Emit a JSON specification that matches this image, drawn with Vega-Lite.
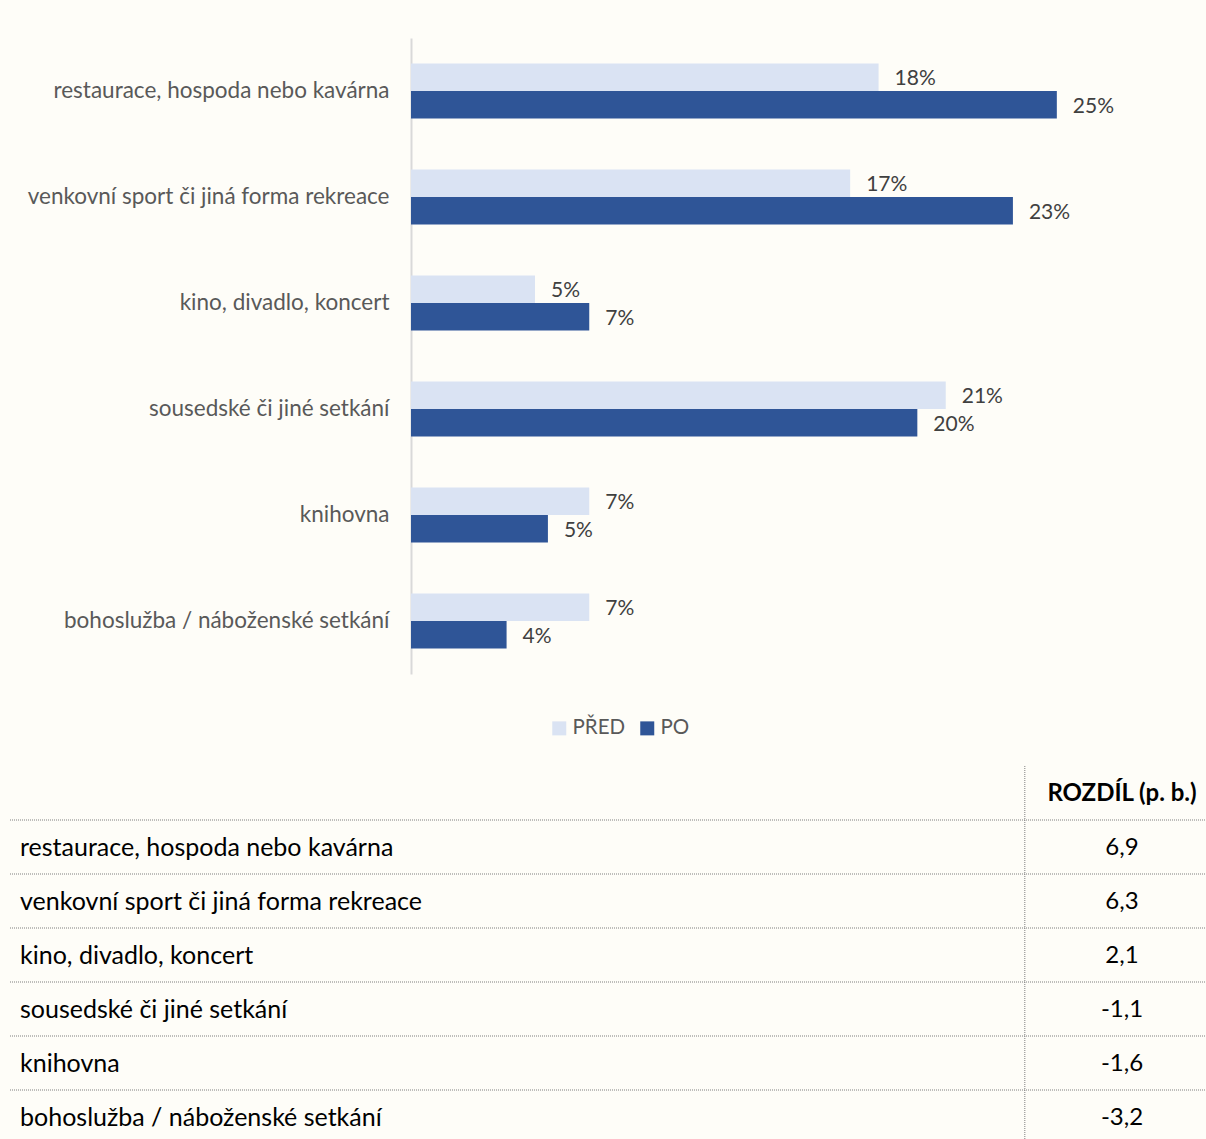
{
  "$schema": "https://vega.github.io/schema/vega-lite/v6.json",
  "background": "#FEFDF8",
  "padding": {"left": 9, "top": 38, "right": 0, "bottom": 0},
  "spacing": 91,
  "config": {
    "view": {"stroke": null},
    "font": "Lato",
    "locale": {"number": {"decimal": ",", "thousands": " ", "grouping": [3], "currency": ["", " Kč"], "minus": "-"}}
  },
  "datasets": {
    "bars": [
      {"cat": "restaurace, hospoda nebo kavárna", "period": "PŘED", "value": 0.181},
      {"cat": "restaurace, hospoda nebo kavárna", "period": "PO", "value": 0.250},
      {"cat": "venkovní sport či jiná forma rekreace", "period": "PŘED", "value": 0.170},
      {"cat": "venkovní sport či jiná forma rekreace", "period": "PO", "value": 0.233},
      {"cat": "kino, divadlo, koncert", "period": "PŘED", "value": 0.048},
      {"cat": "kino, divadlo, koncert", "period": "PO", "value": 0.069},
      {"cat": "sousedské či jiné setkání", "period": "PŘED", "value": 0.207},
      {"cat": "sousedské či jiné setkání", "period": "PO", "value": 0.196},
      {"cat": "knihovna", "period": "PŘED", "value": 0.069},
      {"cat": "knihovna", "period": "PO", "value": 0.053},
      {"cat": "bohoslužba / náboženské setkání", "period": "PŘED", "value": 0.069},
      {"cat": "bohoslužba / náboženské setkání", "period": "PO", "value": 0.037}
    ],
    "table": [
      {"cat": "restaurace, hospoda nebo kavárna", "diff": 6.9},
      {"cat": "venkovní sport či jiná forma rekreace", "diff": 6.3},
      {"cat": "kino, divadlo, koncert", "diff": 2.1},
      {"cat": "sousedské či jiné setkání", "diff": -1.1},
      {"cat": "knihovna", "diff": -1.6},
      {"cat": "bohoslužba / náboženské setkání", "diff": -3.2}
    ]
  },
  "vconcat": [
    {
      "width": 775,
      "height": 636,
      "data": {"name": "bars"},
      "encoding": {
        "y": {
          "field": "cat", "type": "nominal",
          "sort": ["restaurace, hospoda nebo kavárna", "venkovní sport či jiná forma rekreace", "kino, divadlo, koncert", "sousedské či jiné setkání", "knihovna", "bohoslužba / náboženské setkání"],
          "scale": {"paddingInner": 0.48, "paddingOuter": 0.24},
          "axis": {"title": null, "domainColor": "#D9D9D9", "domainWidth": 2, "ticks": false, "grid": false, "labelPadding": 22, "labelFontSize": 22.5, "labelColor": "#595959", "labelLimit": 500, "minExtent": 401, "maxExtent": 401}
        },
        "yOffset": {"field": "period", "type": "nominal", "sort": ["PŘED", "PO"]},
        "x": {"field": "value", "type": "quantitative", "scale": {"domain": [0, 0.3]}, "axis": null}
      },
      "layer": [
        {
          "mark": {"type": "bar"},
          "encoding": {
            "color": {
              "field": "period", "type": "nominal",
              "scale": {"domain": ["PŘED", "PO"], "range": ["#DAE3F3", "#2F5597"]},
              "legend": {"title": null, "orient": "none", "legendX": 138, "legendY": 680, "direction": "horizontal", "symbolType": "square", "symbolSize": 196, "symbolStrokeWidth": 0, "labelFontSize": 20.5, "labelColor": "#595959", "columnPadding": 11, "labelOffset": 3}
            }
          }
        },
        {
          "mark": {"type": "text", "align": "left", "baseline": "middle", "dx": 16, "dy": 2, "fontSize": 21, "color": "#404040"},
          "encoding": {"text": {"field": "value", "type": "quantitative", "format": ".0%"}}
        }
      ]
    },
    {
      "width": 796,
      "height": 378,
      "layer": [
        {
          "data": {"name": "table"},
          "mark": {"type": "rule", "strokeDash": [1, 1], "color": "#7F7F7F", "strokeWidth": 1},
          "encoding": {
            "y": {
              "field": "cat", "type": "nominal", "bandPosition": 0,
              "scale": {"domain": ["hdr", "restaurace, hospoda nebo kavárna", "venkovní sport či jiná forma rekreace", "kino, divadlo, koncert", "sousedské či jiné setkání", "knihovna", "bohoslužba / náboženské setkání"], "paddingInner": 0, "paddingOuter": 0},
              "axis": null
            },
            "x": {"datum": 0, "type": "quantitative", "scale": {"domain": [0, 100], "range": [-401, 796]}, "axis": null},
            "x2": {"datum": 100}
          }
        },
        {
          "data": {"values": [{"col": "sep"}]},
          "mark": {"type": "rule", "strokeDash": [1, 1], "color": "#7F7F7F", "strokeWidth": 1},
          "encoding": {
            "x": {"datum": 84.78, "type": "quantitative"}
          }
        },
        {
          "data": {"name": "table"},
          "mark": {"type": "text", "align": "left", "baseline": "middle", "dx": 10, "dy": 1, "fontSize": 25, "color": "#000000"},
          "encoding": {
            "y": {"field": "cat", "type": "nominal"},
            "x": {"datum": 0, "type": "quantitative"},
            "text": {"field": "cat"}
          }
        },
        {
          "data": {"name": "table"},
          "mark": {"type": "text", "align": "center", "baseline": "middle", "dy": 1, "fontSize": 24, "color": "#000000"},
          "encoding": {
            "y": {"field": "cat", "type": "nominal"},
            "x": {"datum": 92.9, "type": "quantitative"},
            "text": {"field": "diff", "type": "quantitative", "format": ".1f"}
          }
        },
        {
          "data": {"values": [{"cat": "hdr", "label": "ROZDÍL (p. b.)"}]},
          "mark": {"type": "text", "align": "center", "baseline": "middle", "dy": 1, "fontSize": 24, "fontWeight": "bold", "color": "#000000"},
          "encoding": {
            "y": {"field": "cat", "type": "nominal"},
            "x": {"datum": 92.9, "type": "quantitative"},
            "text": {"field": "label"}
          }
        }
      ]
    }
  ]
}
